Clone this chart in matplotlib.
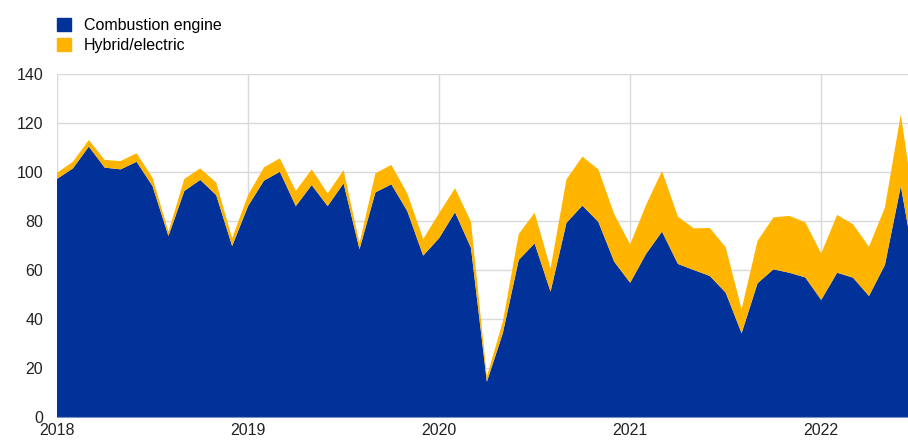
import numpy as np
import matplotlib
matplotlib.use("Agg")
import matplotlib.pyplot as plt
from matplotlib.patches import Patch

plt.rcParams['font.family'] = ['Liberation Sans', 'DejaVu Sans']

# monthly, Jan 2018 .. Jul 2022
combustion = [97.3, 101.6, 110.5, 101.9, 101.2, 104.3, 94.4, 74.0, 92.4, 96.9, 90.7, 69.9,
              86.2, 96.6, 100.2, 86.2, 94.8, 86.2, 95.5, 68.6, 91.8, 95.1, 84.2, 66.0,
              73.1, 83.7, 69.2, 14.5, 34.3, 64.2, 71.0, 51.3, 79.4, 86.4, 79.8, 63.5,
              54.9, 66.7, 75.8, 62.6, 60.1, 57.7, 50.9, 34.3, 54.7, 60.4, 59.0, 57.1,
              47.9, 59.0, 57.0, 49.5, 62.2, 94.4, 57.5]
total = [99.8, 104.3, 113.2, 105.0, 104.6, 107.8, 97.8, 75.8, 97.3, 101.6, 95.8, 73.1,
         90.7, 102.0, 105.7, 92.4, 101.2, 91.4, 100.9, 71.0, 99.6, 103.0, 91.4, 72.8,
         83.3, 93.5, 79.8, 16.6, 39.0, 74.8, 83.5, 60.8, 97.1, 106.4, 101.2, 82.9,
         70.6, 86.7, 100.5, 81.9, 77.1, 77.3, 69.4, 44.1, 72.0, 81.6, 82.2, 79.6,
         66.9, 82.6, 78.8, 69.6, 85.6, 123.7, 79.3]
hybrid = [t - c for t, c in zip(total, combustion)]
years = ["2018", "2019", "2020", "2021", "2022"]

blue = "#003299"
yellow = "#ffb400"

fig = plt.figure(figsize=(9.08, 4.43), dpi=100)
ax = fig.add_axes([57/908, 1-417.3/443, 1-57/908, (417.3-74.3)/443])

x = np.arange(len(combustion))
ax.stackplot(x, combustion, hybrid, colors=[blue, yellow], linewidth=0)

ax.set_xlim(0, 53.45)
ax.set_ylim(0, 140)
ax.set_yticks(range(0, 141, 20))
ax.set_xticks(np.arange(len(years)) * 12)
ax.set_xticklabels(years)
ax.grid(True, color="#d9d9d9", linewidth=1)
ax.set_axisbelow(True)
for s in ["top", "right", "left"]:
    ax.spines[s].set_visible(False)
ax.spines["bottom"].set_color("#7f8fbf")
ax.spines["bottom"].set_linewidth(0.8)
ax.tick_params(axis="both", length=0, labelsize=11.5, colors="#222222")
ax.tick_params(axis="y", pad=10)
ax.tick_params(axis="x", pad=4)

handles = [Patch(color=blue, label="Combustion engine"),
           Patch(color=yellow, label="Hybrid/electric")]
fig.legend(handles=handles, loc="upper left", bbox_to_anchor=(0.05, 0.985),
           frameon=False, fontsize=11.5, handlelength=0.9, handleheight=0.9,
           handletextpad=0.8, labelspacing=0.3, borderaxespad=0.3)

fig.savefig("out.png", dpi=100)
